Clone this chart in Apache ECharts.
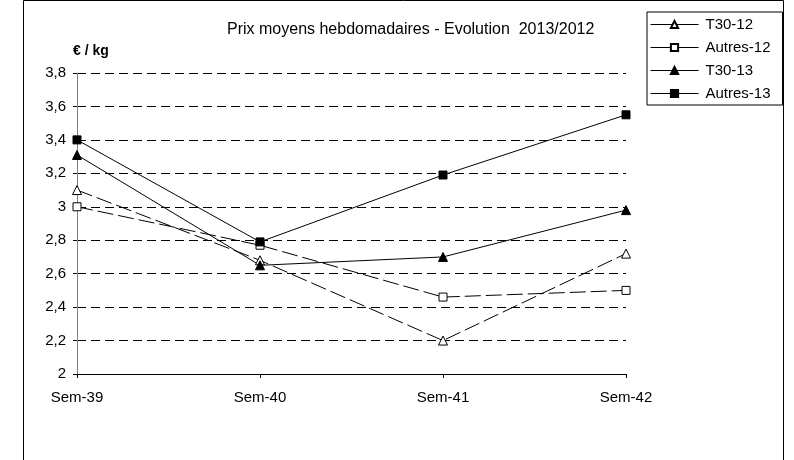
<!DOCTYPE html>
<html><head><meta charset="utf-8">
<script src="https://cdn.jsdelivr.net/npm/echarts@6/dist/echarts.min.js"></script>
<style>html,body{margin:0;padding:0;background:#fff}#c{width:794px;height:460px}</style>
</head><body><div id="c"></div>
<script>
const categories = ['Sem-39', 'Sem-40', 'Sem-41', 'Sem-42'];
const t30_12 = [3.10, 2.68, 2.20, 2.72];
const autres_12 = [3.00, 2.77, 2.46, 2.50];
const t30_13 = [3.31, 2.65, 2.70, 2.98];
const autres_13 = [3.40, 2.79, 3.19, 3.55];
const seriesNames = ['T30-12', 'Autres-12', 'T30-13', 'Autres-13'];

const chart = echarts.init(document.getElementById('c'), null, {renderer: 'canvas'});
const font = 'Liberation Sans, Arial, sans-serif';
function mk(name, data, symbol, filled, dashed) {
  return {
    name: name, type: 'line', data: data,
    symbol: symbol, symbolSize: symbol === 'triangle' ? 9 : 8,
    showAllSymbol: true,
    lineStyle: {color: '#000', width: 1, type: dashed ? [16, 5] : 'solid'},
    itemStyle: {color: filled ? '#000' : '#fff', borderColor: '#000', borderWidth: 1},
    emphasis: {disabled: true},
    z: 3
  };
}
chart.setOption({
  animation: false,
  backgroundColor: '#fff',
  title: {
    text: 'Prix moyens hebdomadaires - Evolution  2013/2012',
    left: 227, top: 22, padding: 0,
    textStyle: {fontFamily: font, fontSize: 16, fontWeight: 'normal', color: '#000'}
  },
  graphic: [
    {type: 'rect', shape: {x: 23.5, y: 0.5, width: 760, height: 480}, style: {fill: 'none', stroke: '#000', lineWidth: 1}, z: -1},
    {type: 'text', left: 73, top: 44, style: {text: '€ / kg', font: 'bold 14px ' + font, fill: '#000'}}
  ],
  legend: {
    data: seriesNames,
    orient: 'vertical',
    left: 647, top: 12,
    width: 137,
    padding: [5, 12, 4, 3],
    itemGap: 8,
    itemWidth: 48, itemHeight: 9,
    borderColor: '#000', borderWidth: 1,
    backgroundColor: '#fff',
    lineStyle: {type: 'solid', width: 1},
    textStyle: {fontFamily: font, fontSize: 15, lineHeight: 15, color: '#000', padding: [0, 0, 0, 2]},
    selectedMode: false
  },
  grid: {left: 77, right: 168, top: 73, bottom: 86},
  xAxis: {
    type: 'category', data: categories, boundaryGap: false,
    axisLine: {lineStyle: {color: '#000', width: 1}},
    axisTick: {show: true, inside: false, length: 4, lineStyle: {color: '#000'}},
    axisLabel: {fontFamily: font, fontSize: 15, color: '#000', margin: 16},
    splitLine: {show: false}
  },
  yAxis: {
    type: 'value', min: 2, max: 3.8, interval: 0.2,
    axisLine: {show: true, lineStyle: {color: '#808080', width: 1}},
    axisTick: {show: true, length: 4, lineStyle: {color: '#000'}},
    axisLabel: {fontFamily: font, fontSize: 15, color: '#000', margin: 11,
      formatter: v => (Math.round(v * 10) / 10).toString().replace('.', ',')},
    splitLine: {show: true, lineStyle: {color: '#000', width: 1, type: [9, 5]}}
  },
  series: [
    mk('T30-12', t30_12, 'triangle', false, true),
    mk('Autres-12', autres_12, 'rect', false, true),
    mk('T30-13', t30_13, 'triangle', true, false),
    mk('Autres-13', autres_13, 'rect', true, false)
  ]
});
</script></body></html>
